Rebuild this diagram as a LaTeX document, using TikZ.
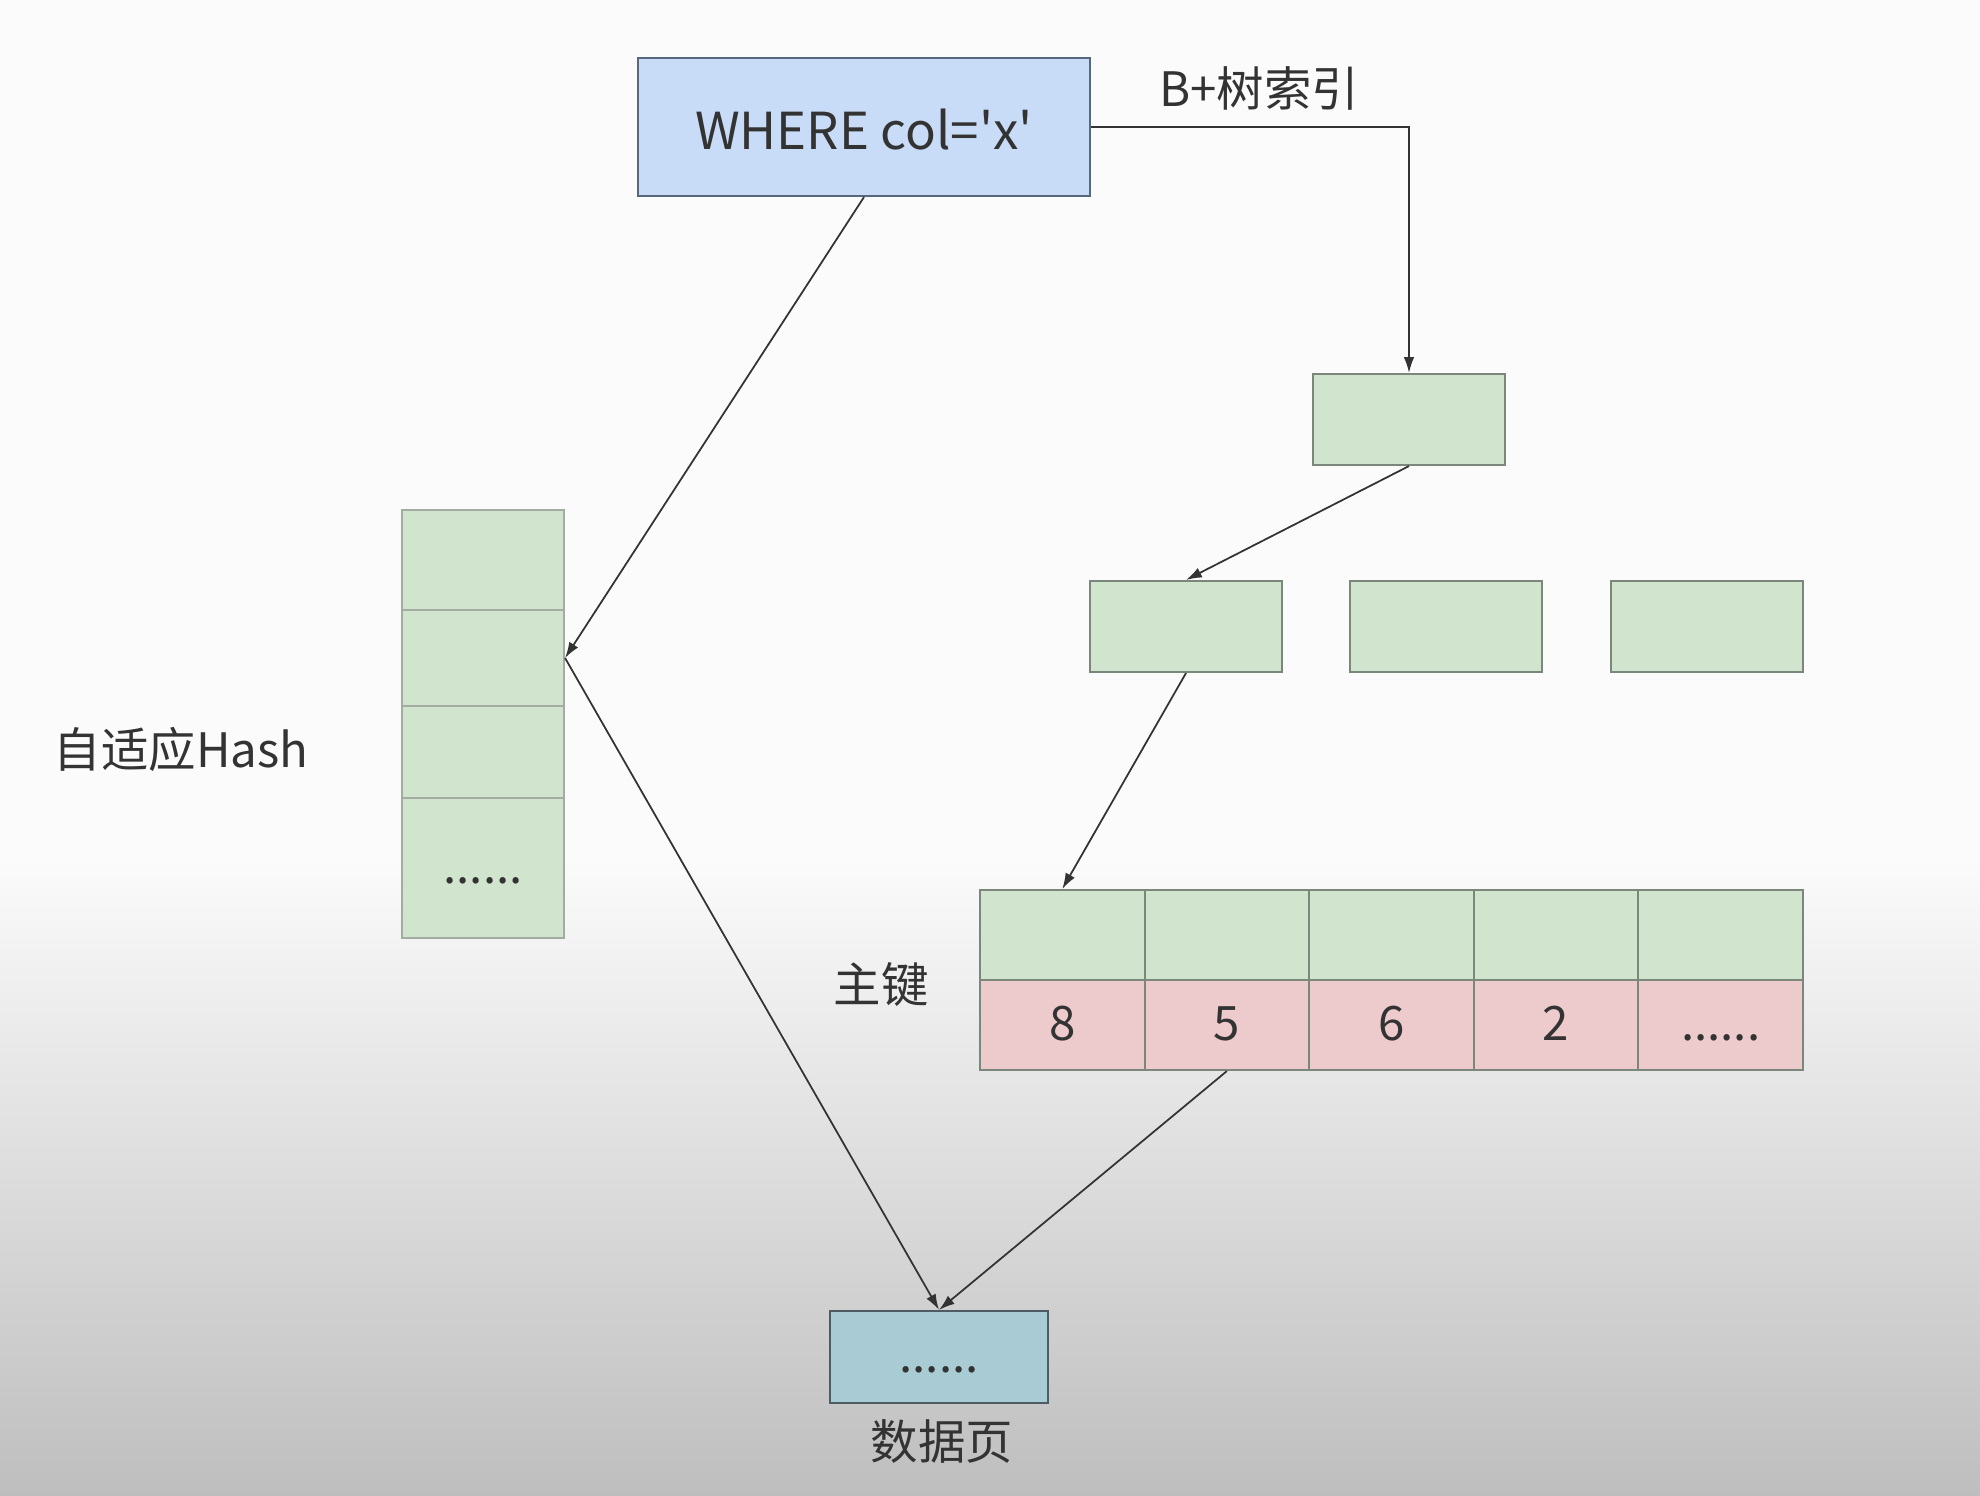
\documentclass[tikz,border=0pt]{standalone}
\usepackage{fontspec}
\setmainfont{Noto Sans CJK SC}[Ligatures=TeXOff]
\usepackage{tikz}
\usetikzlibrary{arrows.meta}

\definecolor{querybg}{HTML}{C9DCF7}
\definecolor{queryline}{HTML}{56677E}
\definecolor{cellgreen}{HTML}{D1E4CE}
\definecolor{cellline}{HTML}{7C877C}
\definecolor{cellpink}{HTML}{EDCACB}
\definecolor{pagebg}{HTML}{A9CCD4}
\definecolor{pageline}{HTML}{4C5C62}
\definecolor{txt}{HTML}{333333}
\definecolor{bgtop}{HTML}{FBFBFB}
\definecolor{bgbot}{HTML}{BEBEBE}

\newcommand{\sixdots}{......}

\begin{document}
\begin{tikzpicture}[
		every node/.style={text=txt, font=\fontsize{13.5}{16}\selectfont},
		box/.style={draw=cellline, fill=cellgreen, line width=0.6pt, inner sep=0pt,
			text height=9pt, text depth=0pt},
		keycell/.style={box, fill=cellpink, minimum width=1.646cm, minimum height=0.9cm},
		leafcell/.style={box, minimum width=1.646cm, minimum height=0.9cm},
		arrow/.style={-{Latex[length=4.5pt,width=3pt]}, line width=0.5pt, draw=black!80}
	]

	% Background
	\useasboundingbox (0,0) rectangle (19.8,-14.96);
	\fill[bgtop] (0,0) rectangle (19.8,-8.6);
	\shade[top color=bgtop, bottom color=bgbot] (0,-8.6) rectangle (19.8,-14.96);

	% Query
	\node[box, fill=querybg, draw=queryline, minimum width=4.52cm, minimum height=1.38cm,
		font=\fontsize{14.5}{17}\selectfont, text height=13pt] (where) at (8.64,-1.27) {WHERE col='x'};
	\node (btree) at (12.59,-0.88) {B+树索引};

	% B+ tree
	\node[box, minimum width=1.92cm, minimum height=0.91cm] (root) at (14.09,-4.195) {};
	\node[box, minimum width=1.92cm, minimum height=0.91cm] (n1) at (11.86,-6.265) {};
	\node[box, minimum width=1.92cm, minimum height=0.91cm] (n2) at (14.46,-6.265) {};
	\node[box, minimum width=1.92cm, minimum height=0.91cm] (n3) at (17.07,-6.265) {};

	% Leaf row with primary keys
	\foreach \v [count=\i] in {8,5,6,2,\sixdots} {
		\node[leafcell] (k\i) at ({9.80+1.646*(\i-0.5)},-9.35) {};
		\node[keycell] (v\i) at ({9.80+1.646*(\i-0.5)},-10.25) {\v};
	}
	\node (pk) at (8.81,-9.85) {主键};

	% Adaptive hash
	\node[box, draw=cellline!70, minimum width=1.62cm, minimum height=1.00cm] (h1) at (4.83,-5.60) {};
	\node[box, draw=cellline!70, minimum width=1.62cm, minimum height=0.96cm] (h2) at (4.83,-6.58) {};
	\node[box, draw=cellline!70, minimum width=1.62cm, minimum height=0.92cm] (h3) at (4.83,-7.52) {};
	\node[box, draw=cellline!70, minimum width=1.62cm, minimum height=1.40cm] (h4) at (4.83,-8.68) {\sixdots};
	\node (hash) at (1.81,-7.49) {自适应Hash};

	% Data page
	\node[box, fill=pagebg, draw=pageline, minimum width=2.18cm, minimum height=0.92cm] (page) at (9.39,-13.57) {\sixdots};
	\node (pagelbl) at (9.42,-14.42) {数据页};

	% Arrows
	\draw[arrow] (where.east) -| (root.north);
	\draw[arrow] (root.south) -- (n1.north);
	\draw[arrow] (n1.south) -- (k1.north);
	\draw[arrow] (v2.south) -- (page.north);
	\draw[arrow] (where.south) -- (h2.east);
	\draw[arrow] (h2.east) -- (page.north);

\end{tikzpicture}
\end{document}
